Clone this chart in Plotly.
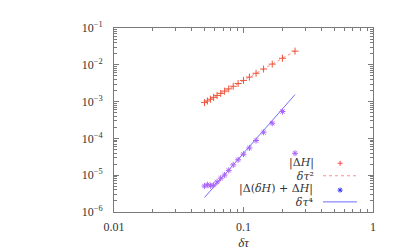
import plotly.graph_objects as go

# Data
dtau = [0.05, 0.05263, 0.05556, 0.05882, 0.0625, 0.06667, 0.07143, 0.07692,
        0.08333, 0.09091, 0.1, 0.1111, 0.125, 0.1429, 0.1667, 0.2, 0.25]
abs_dH = [0.00094, 0.00104, 0.00116, 0.00130, 0.00147, 0.00167, 0.00192, 0.00222,
          0.00261, 0.00311, 0.00376, 0.00464, 0.00588, 0.00768, 0.01044, 0.01504, 0.0235]
abs_ddH = [5.06e-6, 5.51e-6, 5.20e-6, 5.36e-6, 6.56e-6, 8.27e-6, 1.01e-5, 1.35e-5,
           1.91e-5, 2.63e-5, 3.72e-5, 5.51e-5, 8.75e-5, 1.47e-4, 2.58e-4, 5.38e-4, 3.94e-5]
fit2_x = [0.05, 0.25]
fit2_y = [0.00094, 0.0235]
fit4_x = [0.05, 0.25]
fit4_y = [2.48e-6, 1.55e-3]

xtick_vals = [0.01, 0.1, 1]
xtick_text = ["0.01", "0.1", "1"]
ytick_vals = [1e-6, 1e-5, 1e-4, 1e-3, 1e-2, 1e-1]
ytick_text = ["10<sup>\u22126</sup>", "10<sup>\u22125</sup>", "10<sup>\u22124</sup>",
              "10<sup>\u22123</sup>", "10<sup>\u22122</sup>", "10<sup>\u22121</sup>"]
legend_labels = ["|\u0394<i>H</i>|", "<i>\u03b4\u03c4</i>\u00b2",
                 "|\u0394(<i>\u03b4H</i>) + \u0394<i>H</i>|", "<i>\u03b4\u03c4</i>\u2074"]

RED = "rgb(255,70,70)"
RED_L = "rgb(255,140,140)"
BLUE = "rgb(50,50,255)"
BLUE_L = "rgb(110,110,255)"
AXC = "#7a7a7a"
TXT = "#333333"
FONT = "Liberation Serif"
LFONT = "DejaVu Serif"

fig = go.Figure()
fig.add_trace(go.Scatter(x=fit2_x, y=fit2_y, mode="lines",
                         line=dict(color=RED_L, width=1, dash="dot"), showlegend=False))
fig.add_trace(go.Scatter(x=dtau, y=abs_dH, mode="markers",
                         marker=dict(symbol="cross-thin-open", size=5,
                                     line=dict(color=RED, width=1)), showlegend=False))
fig.add_trace(go.Scatter(x=fit4_x, y=fit4_y, mode="lines",
                         line=dict(color=BLUE_L, width=1), showlegend=False))
fig.add_trace(go.Scatter(x=dtau, y=abs_ddH, mode="markers",
                         marker=dict(symbol="asterisk-open", size=5,
                                     line=dict(color=BLUE, width=1)), showlegend=False))

xminor = [m * 10 ** e for e in (-2, -1) for m in range(2, 10)]
yminor = [m * 10 ** e for e in (-6, -5, -4, -3, -2) for m in range(2, 10)]

common = dict(showline=True, linecolor=AXC, linewidth=1, mirror="ticks",
              ticks="inside", ticklen=5, tickcolor=AXC, showgrid=False,
              zeroline=False, tickfont=dict(family=FONT, size=12, color=TXT))

fig.update_xaxes(type="log", range=[-2, 0], tickmode="array",
                 tickvals=xtick_vals, ticktext=xtick_text,
                 minor=dict(ticks="inside", ticklen=3, tickcolor=AXC,
                            tickmode="array", tickvals=xminor, showgrid=False),
                 title=dict(text="<i>\u03b4\u03c4</i>", font=dict(family=FONT, size=13, color=TXT),
                            standoff=4),
                 ticklabelstandoff=4, **common)
fig.update_yaxes(type="log", range=[-6, -1], tickmode="array",
                 tickvals=ytick_vals, ticktext=ytick_text,
                 minor=dict(ticks="inside", ticklen=3, tickcolor=AXC,
                            tickmode="array", tickvals=yminor, showgrid=False),
                 ticklabelstandoff=8, **common)

# legend (text right-aligned, sample to the right), two blocks of two lines
leg_y = [0.265, 0.197, 0.119, 0.055]
for i, yy in ((0, 0.231), (2, 0.087)):
    fig.add_annotation(x=0.776, y=yy, xref="paper", yref="paper",
                       text=legend_labels[i] + "<br>" + legend_labels[i + 1],
                       showarrow=False, xanchor="right", yanchor="middle", align="right",
                       borderpad=0,
                       font=dict(family=LFONT, size=11, color=TXT))

shapes = []
mx = 0.873
shapes.append(dict(type="line", xref="paper", yref="paper", xsizemode="pixel", ysizemode="pixel",
                   xanchor=mx, yanchor=leg_y[0], x0=-2.5, x1=2.5, y0=0, y1=0,
                   line=dict(color=RED, width=1)))
shapes.append(dict(type="line", xref="paper", yref="paper", xsizemode="pixel", ysizemode="pixel",
                   xanchor=mx, yanchor=leg_y[0], x0=0, x1=0, y0=-2.5, y1=2.5,
                   line=dict(color=RED, width=1)))
shapes.append(dict(type="line", xref="paper", yref="paper", x0=0.807, x1=0.938,
                   y0=leg_y[1], y1=leg_y[1], line=dict(color=RED_L, width=1, dash="dot")))
for (a, b) in [(-2.5, 0), (0, -2.5), (-1.8, -1.8), (-1.8, 1.8)]:
    shapes.append(dict(type="line", xref="paper", yref="paper", xsizemode="pixel", ysizemode="pixel",
                       xanchor=mx, yanchor=leg_y[2], x0=a, x1=-a, y0=b, y1=-b,
                       line=dict(color=BLUE, width=1)))
shapes.append(dict(type="line", xref="paper", yref="paper", x0=0.807, x1=0.938,
                   y0=leg_y[3], y1=leg_y[3], line=dict(color=BLUE_L, width=1)))

fig.update_layout(width=417, height=252, margin=dict(l=106, r=52, t=13, b=40),
                  paper_bgcolor="white", plot_bgcolor="white", shapes=shapes,
                  showlegend=False)

fig.write_html("out.html")
